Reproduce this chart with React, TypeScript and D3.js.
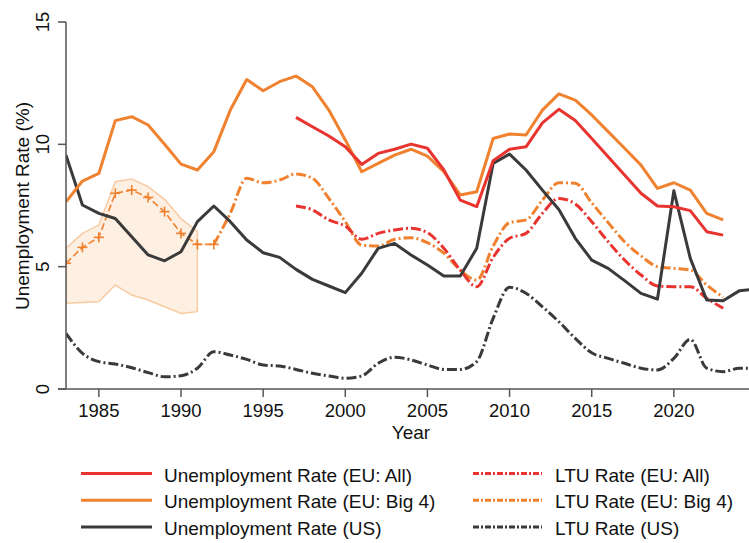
import React from "react";
import * as d3 from "d3";

const W = 749;
const H = 543;

const yearsBig4 = d3.range(1983, 2024);
const urBig4 = [7.65, 8.5, 8.81, 10.97, 11.13, 10.79, 10.0, 9.19, 8.95, 9.7, 11.4, 12.65, 12.19, 12.56, 12.79, 12.35, 11.4, 10.18, 8.88, 9.22, 9.56, 9.8, 9.52, 8.88, 7.93, 8.06, 10.24, 10.42, 10.38, 11.4, 12.06, 11.81, 11.2, 10.52, 9.84, 9.15, 8.2, 8.43, 8.13, 7.18, 6.91];

const yearsAll = d3.range(1997, 2024);
const urAll = [11.1, 10.72, 10.34, 9.9, 9.18, 9.63, 9.8, 10.01, 9.84, 8.95, 7.72, 7.45, 9.33, 9.8, 9.9, 10.88, 11.43, 10.97, 10.24, 9.49, 8.75, 8.0, 7.48, 7.45, 7.29, 6.43, 6.29];
const ltuAll = [7.48, 7.32, 6.91, 6.66, 6.12, 6.36, 6.5, 6.57, 6.39, 5.75, 4.86, 4.18, 5.38, 6.16, 6.36, 7.18, 7.79, 7.56, 6.84, 6.02, 5.27, 4.66, 4.21, 4.18, 4.18, 3.71, 3.3];

const yearsUS = d3.range(1983, 2026);
const urUS = [9.56, 7.52, 7.18, 6.97, 6.22, 5.48, 5.24, 5.61, 6.84, 7.48, 6.84, 6.09, 5.57, 5.38, 4.89, 4.48, 4.21, 3.94, 4.73, 5.75, 5.95, 5.48, 5.07, 4.62, 4.62, 5.75, 9.22, 9.6, 8.95, 8.13, 7.34, 6.16, 5.27, 4.93, 4.43, 3.91, 3.67, 8.1, 5.34, 3.64, 3.61, 4.02, 4.08];
const ltuUS = [2.27, 1.46, 1.12, 1.02, 0.87, 0.67, 0.5, 0.54, 0.85, 1.52, 1.39, 1.21, 0.98, 0.94, 0.8, 0.64, 0.53, 0.44, 0.53, 1.05, 1.3, 1.19, 0.98, 0.8, 0.8, 1.12, 2.89, 4.16, 3.91, 3.36, 2.75, 2.07, 1.48, 1.25, 1.05, 0.85, 0.78, 1.25, 2.03, 0.85, 0.71, 0.85, 0.85];

const yearsLtuBig4 = d3.range(1992, 2024);
const ltuBig4 = [5.91, 7.18, 8.61, 8.43, 8.54, 8.79, 8.61, 7.79, 6.84, 5.88, 5.84, 6.12, 6.18, 5.98, 5.55, 4.86, 4.45, 5.84, 6.8, 6.91, 7.72, 8.43, 8.41, 7.61, 6.8, 6.02, 5.44, 5.0, 4.93, 4.86, 4.25, 3.75];

const yearsEarly = d3.range(1983, 1993);
const ltuBig4Early = [5.14, 5.79, 6.2, 8.0, 8.13, 7.83, 7.25, 6.36, 5.91, 5.91];
const yearsBand = d3.range(1983, 1992);
const bandUpper = [5.75, 6.36, 6.7, 8.47, 8.58, 8.27, 7.75, 6.97, 6.43];
const bandLower = [3.5, 3.54, 3.57, 4.25, 3.84, 3.64, 3.36, 3.09, 3.16];

const xTicks = [1985, 1990, 1995, 2000, 2005, 2010, 2015, 2020];
const yTicks = [0, 5, 10, 15];

const RED = "#e8332f";
const ORANGE = "#f0822f";
const DARK = "#3a3a3a";
const FONT = "'Liberation Sans', Arial, Helvetica, sans-serif";

const legendItems = [
  { label: "Unemployment Rate (EU: All)", color: RED, dash: "", col: 0, row: 0 },
  { label: "Unemployment Rate (EU: Big 4)", color: ORANGE, dash: "", col: 0, row: 1 },
  { label: "Unemployment Rate (US)", color: DARK, dash: "", col: 0, row: 2 },
  { label: "LTU Rate (EU: All)", color: RED, dash: "6,2,2,2", col: 1, row: 0 },
  { label: "LTU Rate (EU: Big 4)", color: ORANGE, dash: "6,2,2,2", col: 1, row: 1 },
  { label: "LTU Rate (US)", color: DARK, dash: "6,2,2,2", col: 1, row: 2 },
];

export default function App() {
  const x = d3.scaleLinear().domain([1983, 2025]).range([66, 756]);
  const y = d3.scaleLinear().domain([0, 15]).range([389, 22]);

  const lin = (xs: number[], vs: number[]) =>
    d3.line<number>().x((_, i) => x(xs[i])).y((v) => y(v))(vs) || "";
  const smooth = (xs: number[], vs: number[]) =>
    d3
      .line<number>()
      .x((_, i) => x(xs[i]))
      .y((v) => y(v))
      .curve(d3.curveMonotoneX)(vs) || "";

  const band =
    d3
      .area<number>()
      .x((_, i) => x(yearsBand[i]))
      .y0((_, i) => y(bandLower[i]))
      .y1((v) => y(v))(bandUpper) || "";

  const lw = 3;
  const dashLTU = "10,3,2,3";

  return (
    <svg
      width={W}
      height={H}
      style={{ position: "absolute", left: 0, top: 0, background: "#fff" }}
      fontFamily={FONT}
    >
      <rect x={0} y={0} width={W} height={H} fill="#fff" />
      <defs>
        <clipPath id="plot">
          <rect x={66} y={0} width={W - 66} height={392} />
        </clipPath>
      </defs>
      <g clipPath="url(#plot)">
        <path d={band} fill="#fdefe1" stroke="#f8cba3" strokeWidth={1.5} />
        <path d={smooth(yearsUS, ltuUS)} fill="none" stroke={DARK} strokeWidth={lw} strokeDasharray={dashLTU} />
        <path d={smooth(yearsLtuBig4, ltuBig4)} fill="none" stroke={ORANGE} strokeWidth={lw} strokeDasharray={dashLTU} />
        <path d={smooth(yearsAll, ltuAll)} fill="none" stroke={RED} strokeWidth={lw} strokeDasharray={dashLTU} />
        <path d={lin(yearsEarly, ltuBig4Early)} fill="none" stroke={ORANGE} strokeWidth={1.6} strokeDasharray="7,3" />
        {ltuBig4Early.map((v, i) => (
          <g key={i} transform={`translate(${x(yearsEarly[i])},${y(v)})`} stroke={ORANGE} strokeWidth={1.6}>
            <line x1={-5} x2={5} y1={0} y2={0} />
            <line x1={0} x2={0} y1={-5} y2={5} />
          </g>
        ))}
        <path d={lin(yearsUS, urUS)} fill="none" stroke={DARK} strokeWidth={lw} strokeLinejoin="round" />
        <path d={lin(yearsBig4, urBig4)} fill="none" stroke={ORANGE} strokeWidth={lw} strokeLinejoin="round" />
        <path d={lin(yearsAll, urAll)} fill="none" stroke={RED} strokeWidth={lw} strokeLinejoin="round" />
      </g>

      {/* axes */}
      <g stroke="#555" strokeWidth={1.5}>
        <line x1={66} x2={66} y1={22} y2={389} />
        <line x1={58} x2={W} y1={389} y2={389} />
        {yTicks.map((t) => (
          <line key={t} x1={58} x2={66} y1={y(t)} y2={y(t)} />
        ))}
        {xTicks.map((t) => (
          <line key={t} x1={x(t)} x2={x(t)} y1={389} y2={397} />
        ))}
      </g>
      <g fontSize={18.5} fill="#111" textAnchor="middle">
        {yTicks.map((t) => (
          <text key={t} transform={`translate(49,${y(t)}) rotate(-90)`}>
            {t}
          </text>
        ))}
        {xTicks.map((t) => (
          <text key={t} x={x(t)} y={417}>
            {t}
          </text>
        ))}
      </g>
      <text fontSize={19} fill="#111" textAnchor="middle" transform="translate(29,206) rotate(-90)">
        Unemployment Rate (%)
      </text>
      <text fontSize={19} fill="#111" textAnchor="middle" x={411} y={439}>
        Year
      </text>

      {/* legend */}
      {legendItems.map((it, i) => {
        const lx = it.col === 0 ? 81 : 473;
        const lx2 = it.col === 0 ? 152 : 542;
        const tx = it.col === 0 ? 164 : 555;
        const ly = 473.5 + it.row * 26.7;
        return (
          <g key={i}>
            <line
              x1={lx}
              x2={lx2}
              y1={ly}
              y2={ly}
              stroke={it.color}
              strokeWidth={3}
              strokeDasharray={it.dash || undefined}
            />
            <text x={tx} y={ly + 8} fontSize={19} fill="#111">
              {it.label}
            </text>
          </g>
        );
      })}
    </svg>
  );
}
